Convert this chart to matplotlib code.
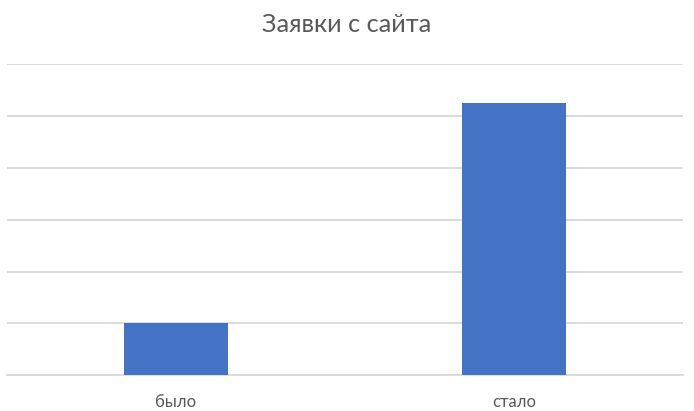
import matplotlib
matplotlib.use("Agg")
import matplotlib.pyplot as plt

categories = ["было", "стало"]
values = [1, 5.25]

plt.rcParams['font.family'] = ['Lato', 'DejaVu Sans']

fig = plt.figure(figsize=(6.94, 4.11), dpi=100)
ax = fig.add_axes([7 / 694, 36 / 411, 676 / 694, 310.5 / 411])

x = range(len(categories))
ax.bar(x, values, width=0.31, color='#4472C4', zorder=3)

ax.set_xlim(-0.5, 1.5)
ax.set_ylim(0, 6)
ax.set_yticks(range(0, 7))
ax.yaxis.grid(True, color='#D9D9D9', linewidth=1.3, zorder=0)
ax.set_yticklabels([])
ax.tick_params(axis='y', length=0)
ax.set_xticks(list(x))
ax.set_xticklabels(categories, fontsize=12, color='#595959')
ax.tick_params(axis='x', length=0, pad=14)
for s in ['top', 'right', 'left']:
    ax.spines[s].set_visible(False)
ax.spines['bottom'].set_color('#D9D9D9')
ax.spines['bottom'].set_linewidth(1.3)

fig.text(0.5, 1 - 25 / 411, "Заявки с сайта", ha='center', va='center',
         fontsize=18.2, color='#595959')

fig.savefig("out.png", dpi=100)
